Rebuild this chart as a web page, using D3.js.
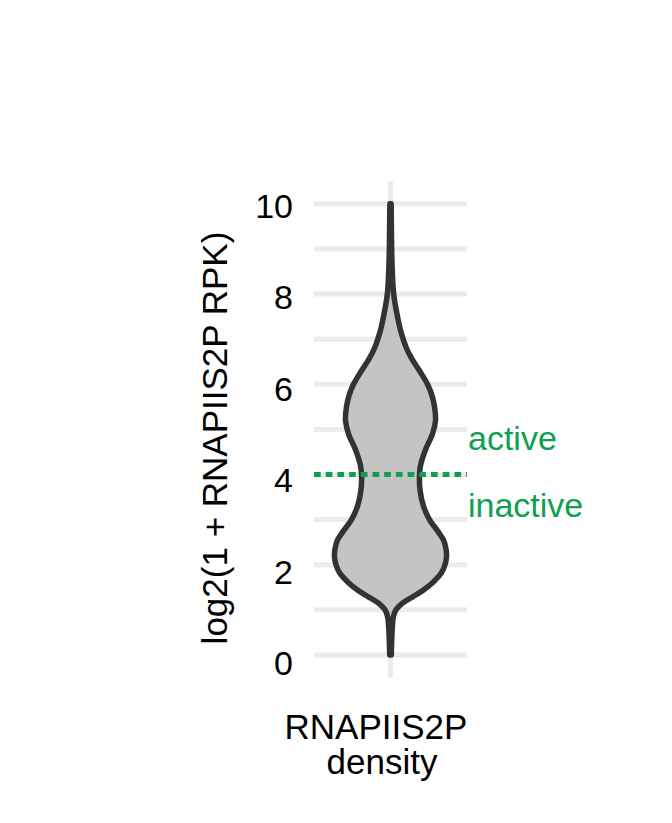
<!DOCTYPE html>
<html>
<head>
<meta charset="utf-8">
<script src="https://cdn.jsdelivr.net/npm/d3@7"></script>
<style>
  html, body { margin: 0; padding: 0; background: #ffffff; }
  svg { display: block; }
  text { font-family: "Liberation Sans", Arial, Helvetica, sans-serif; }
</style>
</head>
<body>
<script>
// ---- data ----
const category = "RNAPIIS2P\ndensity";
const yTicks = [0, 2, 4, 6, 8, 10];
const yMinorTicks = [1, 3, 5, 7, 9];
const yTickLabels = ["0", "2", "4", "6", "8", "10"];
const threshold = 4;
const thresholdLabels = ["active", "inactive"];
const yTitle = "log2(1 + RNAPIIS2P RPK)";
// violin outline: value (log2 RPK) and relative density (max = 1)
const violinValues = [0.0, 0.3, 0.6, 0.84, 1.0, 1.15, 1.3, 1.44, 1.6, 1.82, 2.0, 2.17, 2.35, 2.55, 2.75, 3.0, 3.3, 3.66, 4.0, 4.2, 4.55, 4.9, 5.2, 5.5, 5.75, 6.0, 6.3, 6.54, 6.8, 7.2, 7.5, 8.0, 8.5, 9.0, 9.5, 10.0];
const violinDensity = [0.014, 0.021, 0.032, 0.05, 0.098, 0.214, 0.41, 0.59, 0.75, 0.91, 0.973, 1.0, 0.991, 0.946, 0.84, 0.696, 0.589, 0.527, 0.518, 0.536, 0.625, 0.75, 0.804, 0.786, 0.741, 0.661, 0.518, 0.393, 0.286, 0.179, 0.125, 0.057, 0.032, 0.021, 0.016, 0.011];

// ---- layout ----
const W = 672, H = 823;
const svg = d3.select("body").append("svg").attr("width", W).attr("height", H);

const y = d3.scaleLinear().domain([-0.5, 10.5]).range([677.5, 181.3]);
const yLabel = d3.scaleLinear().domain([0, 10]).range([663, 205.5]);
const x = d3.scaleBand().domain([category]).range([314, 467]).paddingOuter(0.6).paddingInner(0);
const cx = x(category) + x.bandwidth() / 2;
const w = d3.scaleLinear().domain([0, 1]).range([0, 56]);

const gridColor = "#ebebeb";
// grid
const grid = svg.append("g");
grid.selectAll("line.minor").data(yMinorTicks).join("line")
  .attr("x1", 314).attr("x2", 467)
  .attr("y1", d => y(d)).attr("y2", d => y(d))
  .attr("stroke", gridColor).attr("stroke-width", 5);
grid.selectAll("line.major").data(yTicks).join("line")
  .attr("x1", 314).attr("x2", 467)
  .attr("y1", d => y(d)).attr("y2", d => y(d))
  .attr("stroke", gridColor).attr("stroke-width", 5);
grid.append("line")
  .attr("x1", cx).attr("x2", cx)
  .attr("y1", y.range()[0]).attr("y2", y.range()[1])
  .attr("stroke", gridColor).attr("stroke-width", 5);

// violin
const pts = violinValues.map((v, i) => ({ v, d: violinDensity[i] }));
const area = d3.area()
  .y(p => y(p.v))
  .x0(p => cx - w(p.d))
  .x1(p => cx + w(p.d))
  .curve(d3.curveCatmullRom.alpha(0.5));
svg.append("path")
  .attr("d", area(pts))
  .attr("fill", "#c4c4c4")
  .attr("stroke", "#333333")
  .attr("stroke-width", 5.5)
  .attr("stroke-linejoin", "round");

// threshold line
const green = "#0ea04f";
svg.append("line")
  .attr("x1", 314).attr("x2", 467)
  .attr("y1", y(threshold)).attr("y2", y(threshold))
  .attr("stroke", green).attr("stroke-width", 5)
  .attr("stroke-dasharray", "6.7,5");
svg.append("text").attr("x", 468).attr("y", y(threshold) - 24.5)
  .attr("fill", green).attr("font-size", 34).text(thresholdLabels[0]);
svg.append("text").attr("x", 468).attr("y", y(threshold) + 42)
  .attr("fill", green).attr("font-size", 34).text(thresholdLabels[1]);

// y tick labels
svg.append("g").selectAll("text").data(yTicks).join("text")
  .attr("x", 293)
  .attr("y", d => yLabel(d) + 12.4)
  .attr("text-anchor", "end")
  .attr("font-size", 34)
  .attr("fill", "#000")
  .text((d, i) => yTickLabels[i]);

// y title
svg.append("text")
  .attr("transform", `translate(227,438) rotate(-90)`)
  .attr("text-anchor", "middle")
  .attr("font-size", 35)
  .attr("fill", "#000")
  .text(yTitle);

// x title (two lines)
const xLines = category.split("\n");
svg.append("text").attr("x", 376).attr("y", 739)
  .attr("text-anchor", "middle").attr("font-size", 35).attr("fill", "#000").text(xLines[0]);
svg.append("text").attr("x", 382).attr("y", 774)
  .attr("text-anchor", "middle").attr("font-size", 35).attr("fill", "#000").text(xLines[1]);
</script>
</body>
</html>
